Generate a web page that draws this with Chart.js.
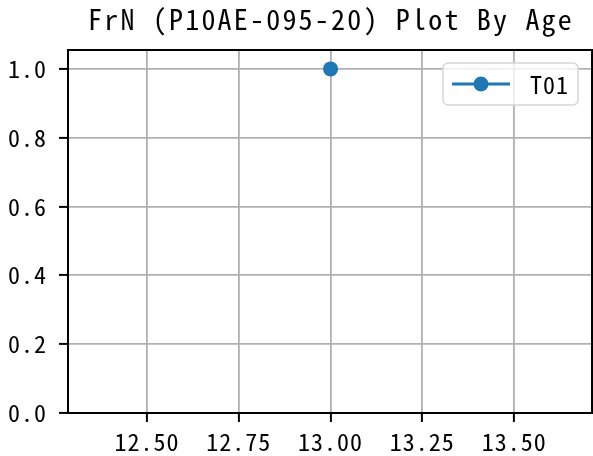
<!DOCTYPE html>
<html>
<head>
<meta charset="utf-8">
<script src="https://cdn.jsdelivr.net/npm/chart.js@4"></script>
<style>
  html, body { margin: 0; padding: 0; background: #fff; overflow: hidden; }
  #wrap { width: 593px; height: 456px; overflow: hidden; }
  #chart { display: block; }
</style>
</head>
<body>
<div id="wrap"><canvas id="chart"></canvas></div>
<script>
const titleText = 'FrN (P10AE-095-20) Plot By Age';
const seriesName = 'T01';
const ages = [13.0];
const values = [1.0];
const xTicks = [12.5, 12.75, 13.0, 13.25, 13.5];
const yTicks = [0.0, 0.2, 0.4, 0.6, 0.8, 1.0];

const FONT = '"Noto Sans Mono CJK SC", "Noto Sans CJK SC", "DejaVu Sans Mono", monospace';
const BLUE = '#1f77b4';
const SPACING = '1px';

// a bit of letter spacing for all text
const spacingPlugin = {
    id: 'spacing',
    beforeLayout(chart) { chart.ctx.letterSpacing = SPACING; },
    beforeDraw(chart) { chart.ctx.letterSpacing = SPACING; }
};

// title, frame round the plot, legend box in the top right
const framePlugin = {
    id: 'frame',
    afterDraw(chart) {
        const { ctx, chartArea: a } = chart;
        ctx.save();
        ctx.strokeStyle = '#000';
        ctx.lineWidth = 2;
        ctx.strokeRect(a.left, a.top, a.right - a.left, a.bottom - a.top);

        // title
        ctx.fillStyle = '#000';
        ctx.font = '28px ' + FONT;
        ctx.letterSpacing = '2.2px';
        ctx.textAlign = 'center';
        ctx.textBaseline = 'alphabetic';
        ctx.fillText(titleText, (a.left + a.right) / 2 + 1, 30);

        // legend
        const bx = a.right - 149, by = a.top + 13, bw = 135, bh = 42;
        ctx.fillStyle = 'rgba(255,255,255,0.8)';
        ctx.strokeStyle = '#d6d6d6';
        ctx.lineWidth = 1.5;
        ctx.beginPath();
        ctx.roundRect(bx, by, bw, bh, 5);
        ctx.fill();
        ctx.stroke();
        const cy = by + bh / 2;
        ctx.strokeStyle = BLUE;
        ctx.lineWidth = 3;
        ctx.beginPath();
        ctx.moveTo(bx + 9, cy);
        ctx.lineTo(bx + 67, cy);
        ctx.stroke();
        ctx.fillStyle = BLUE;
        ctx.beginPath();
        ctx.arc(bx + 38, cy, 7.5, 0, Math.PI * 2);
        ctx.fill();
        ctx.fillStyle = '#000';
        ctx.font = '24px ' + FONT;
        ctx.letterSpacing = SPACING;
        ctx.textBaseline = 'middle';
        ctx.textAlign = 'left';
        ctx.fillText(seriesName, bx + 87, cy + 1);
        ctx.restore();
    }
};

new Chart(document.getElementById('chart'), {
    type: 'line',
    data: {
        datasets: [{
            label: seriesName,
            data: ages.map((x, i) => ({ x: x, y: values[i] })),
            borderColor: BLUE,
            backgroundColor: BLUE,
            borderWidth: 3,
            pointRadius: 7.5,
            pointHoverRadius: 7.5,
            pointBorderWidth: 0
        }]
    },
    options: {
        responsive: true,
        maintainAspectRatio: false,
        animation: false,
        layout: { autoPadding: false, padding: { left: 0, right: 1, top: 50, bottom: 0 } },
        plugins: {
            legend: { display: false },
            tooltip: { enabled: false },
            title: { display: false }
        },
        scales: {
            x: {
                type: 'linear',
                min: 12.285,
                max: 13.712,
                afterBuildTicks: axis => { axis.ticks = xTicks.map(v => ({ value: v })); },
                afterFit: axis => { axis.height = 43; axis.paddingLeft = 0; axis.paddingRight = 0; },
                ticks: {
                    color: '#000',
                    font: { family: FONT, size: 24 },
                    padding: 5,
                    maxRotation: 0,
                    callback: v => Number(v).toFixed(2)
                },
                grid: { color: '#b0b0b0', lineWidth: 1.8, tickColor: '#000', tickLength: 9, tickWidth: 2 },
                border: { color: '#000', width: 2 }
            },
            y: {
                min: 0,
                max: 1.055,
                afterBuildTicks: axis => { axis.ticks = yTicks.map(v => ({ value: v })); },
                afterFit: axis => { axis.width = 68; axis.paddingTop = 0; axis.paddingBottom = 0; },
                ticks: {
                    color: '#000',
                    font: { family: FONT, size: 24 },
                    padding: 12,
                    callback: v => Number(v).toFixed(1)
                },
                grid: { color: '#b0b0b0', lineWidth: 1.8, tickColor: '#000', tickLength: 9, tickWidth: 2 },
                border: { color: '#000', width: 2 }
            }
        }
    },
    plugins: [spacingPlugin, framePlugin]
});
</script>
</body>
</html>
